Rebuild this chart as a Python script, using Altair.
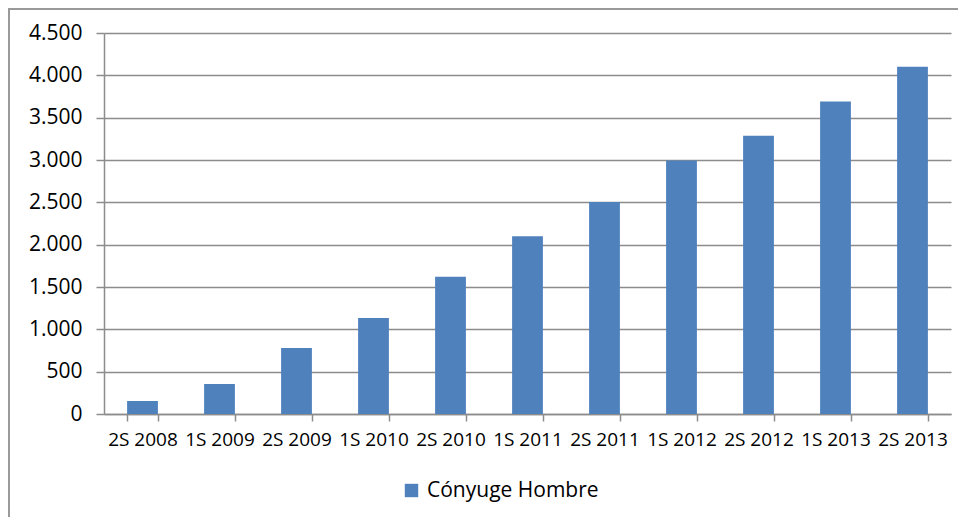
import altair as alt
import pandas as pd

categories = ["2S 2008", "1S 2009", "2S 2009", "1S 2010", "2S 2010", "1S 2011",
              "2S 2011", "1S 2012", "2S 2012", "1S 2013", "2S 2013"]
values = [155, 355, 780, 1135, 1620, 2100, 2505, 2995, 3285, 3690, 4100]
series_name = "Cónyuge Hombre"
y_ticks = list(range(0, 4501, 500))

df = pd.DataFrame({"periodo": categories, "valor": values, "serie": [series_name] * len(categories)})

W, H = 847, 381
FONT = "Open Sans"
GRAY = "#8c8c8c"

bars = alt.Chart(df).mark_bar(color="#4F81BD").encode(
    x=alt.X("periodo:N", sort=categories, title=None,
            scale=alt.Scale(paddingInner=0.6, paddingOuter=0.3),
            axis=alt.Axis(labelAngle=0, labelFont=FONT, labelFontSize=19, labelColor="#000000",
                          tickBand="extent", tickSize=7, tickColor=GRAY, tickWidth=1.5,
                          domainColor=GRAY, domainWidth=1.5, labelPadding=9, grid=False)),
    y=alt.Y("valor:Q", title=None,
            scale=alt.Scale(domain=[0, 4500], nice=False),
            axis=alt.Axis(values=y_ticks, labelFont=FONT, labelFontSize=21, labelColor="#000000",
                          labelExpr="replace(format(datum.value, ','), ',', '.')",
                          tickSize=8, tickColor=GRAY, tickWidth=1.5, domainColor=GRAY, domainWidth=1.5,
                          gridColor=GRAY, gridWidth=1.5, labelPadding=14)),
    color=alt.Color("serie:N", scale=alt.Scale(range=["#4F81BD"]),
                    legend=alt.Legend(title=None, orient="none", legendX=297, legendY=447,
                                      symbolType="square", symbolSize=180, symbolStrokeWidth=0,
                                      labelFont=FONT, labelFontSize=21, labelColor="#000000",
                                      labelOffset=5, labelLimit=400)),
)

frame = alt.Chart(alt.Data(values=[{"a": 1}])).mark_rect(
    fill=None, stroke="#9a9a9a", strokeWidth=2
).encode(
    x=alt.value(-95), x2=alt.value(900), y=alt.value(-24), y2=alt.value(560)
)

chart = alt.layer(frame, bars).properties(
    width=W, height=H,
    autosize=alt.AutoSizeParams(type="none"),
    padding={"left": 96, "top": 25, "right": 7, "bottom": 103},
).configure_view(stroke=None)

chart.save("out.html", embed_options={"renderer": "svg", "actions": False})
